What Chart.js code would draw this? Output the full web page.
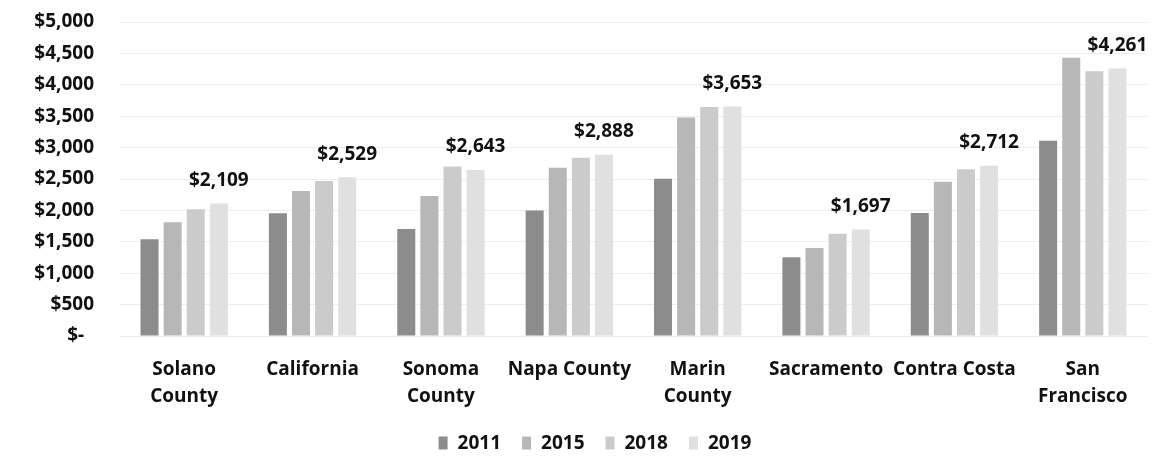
<!DOCTYPE html>
<html>
<head>
<meta charset="utf-8">
<script src="https://cdn.jsdelivr.net/npm/chart.js@4.4.1/dist/chart.umd.min.js"></script>
<style>
  html, body { margin: 0; padding: 0; background: #fff; }
  #wrap { width: 1167px; height: 475px; position: relative; }
</style>
</head>
<body>
<div id="wrap"><canvas id="chart"></canvas></div>
<script>
// Grouped rent bars by region, 2011-2019

var CATEGORIES = [
  ['Solano', 'County'], 'California', ['Sonoma', 'County'], 'Napa County',
  ['Marin', 'County'], 'Sacramento', 'Contra Costa', ['San', 'Francisco']
];

var RENT_2011 = [1540, 1955, 1705, 2000, 2505, 1255, 1960, 3110];
var RENT_2015 = [1810, 2310, 2230, 2680, 3480, 1400, 2455, 4430];
var RENT_2018 = [2020, 2470, 2700, 2840, 3645, 1630, 2655, 4215];
var RENT_2019 = [2109, 2529, 2643, 2888, 3653, 1697, 2712, 4261];

var Y_TICKS = [0, 500, 1000, 1500, 2000, 2500, 3000, 3500, 4000, 4500, 5000];
var Y_TICK_LABELS = ['$-  ', '$500', '$1,000', '$1,500', '$2,000', '$2,500',
  '$3,000', '$3,500', '$4,000', '$4,500', '$5,000'];

var SERIES_COLORS = {
  '2011': '#8c8c8c',
  '2015': '#b7b7b7',
  '2018': '#cbcbcb',
  '2019': '#e0e0e0'
};

var FONT = '"Open Sans", Lato, sans-serif';

function formatDollar(v) {
  return '$' + v.toLocaleString('en-US');
}

// labels above the 2019 bar of every group
var topLabels = {
  id: 'topLabels',
  afterDatasetsDraw: function(chart) {
    var meta = chart.getDatasetMeta(3);
    var ctx = chart.ctx;
    ctx.save();
    ctx.font = 'bold 19px ' + FONT;
    ctx.fillStyle = '#111';
    ctx.textAlign = 'center';
    ctx.textBaseline = 'middle';
    meta.data.forEach(function(bar, i) {
      ctx.fillText(formatDollar(RENT_2019[i]), bar.x, bar.y - 23);
    });
    ctx.restore();
  }
};

// legend row under the axis labels, a little right of the canvas centre
var bottomLegend = {
  id: 'bottomLegend',
  afterDraw: function(chart) {
    var ctx = chart.ctx;
    var centerX = 595, centerY = 443;
    var box = { w: 9, h: 13, gap: 10, spacing: 21 };
    ctx.save();
    ctx.font = 'bold 19px ' + FONT;
    ctx.textBaseline = 'middle';
    ctx.textAlign = 'left';
    var items = chart.data.datasets.map(function(ds) {
      return { label: ds.label, color: ds.backgroundColor, w: ctx.measureText(ds.label).width };
    });
    var total = 0;
    items.forEach(function(it, i) {
      total += box.w + box.gap + it.w + (i < items.length - 1 ? box.spacing : 0);
    });
    var x = centerX - total / 2;
    items.forEach(function(it) {
      ctx.fillStyle = it.color;
      ctx.fillRect(x, centerY - box.h / 2, box.w, box.h);
      ctx.fillStyle = '#111';
      ctx.fillText(it.label, x + box.w + box.gap, centerY + 1);
      x += box.w + box.gap + it.w + box.spacing;
    });
    ctx.restore();
  }
};

function makeDataset(label, values) {
  return {
    label: label,
    data: values,
    backgroundColor: SERIES_COLORS[label],
    borderWidth: 0,
    categoryPercentage: 0.72,
    barPercentage: 0.78
  };
}

new Chart(document.getElementById('chart'), {
  type: 'bar',
  data: {
    labels: CATEGORIES,
    datasets: [
      makeDataset('2011', RENT_2011),
      makeDataset('2015', RENT_2015),
      makeDataset('2018', RENT_2018),
      makeDataset('2019', RENT_2019)
    ]
  },
  plugins: [topLabels, bottomLegend],
  options: {
    responsive: true,
    maintainAspectRatio: false,
    animation: false,
    events: [],
    layout: { padding: { top: 0, right: 20, bottom: 53, left: 0 } },
    plugins: {
      tooltip: { enabled: false },
      legend: { display: false }
    },
    scales: {
      x: {
        grid: { display: false },
        border: { display: false },
        ticks: {
          color: '#111',
          padding: 12,
          maxRotation: 0,
          autoSkip: false,
          font: { family: FONT, size: 19, weight: 'bold', lineHeight: 1.42 }
        }
      },
      y: {
        min: 0,
        max: 5000,
        afterBuildTicks: function(scale) {
          scale.ticks = Y_TICKS.map(function(v) { return { value: v }; });
        },
        afterFit: function(scale) {
          scale.width = 120;
          scale.paddingTop = 22;
          scale.paddingBottom = 12;
        },
        grid: { color: '#ececec', drawTicks: false },
        border: { display: false },
        ticks: {
          color: '#111',
          padding: 26,
          font: { family: FONT, size: 19, weight: 'bold' },
          callback: function(value, index) { return Y_TICK_LABELS[index]; }
        }
      }
    }
  }
});
</script>
</body>
</html>
